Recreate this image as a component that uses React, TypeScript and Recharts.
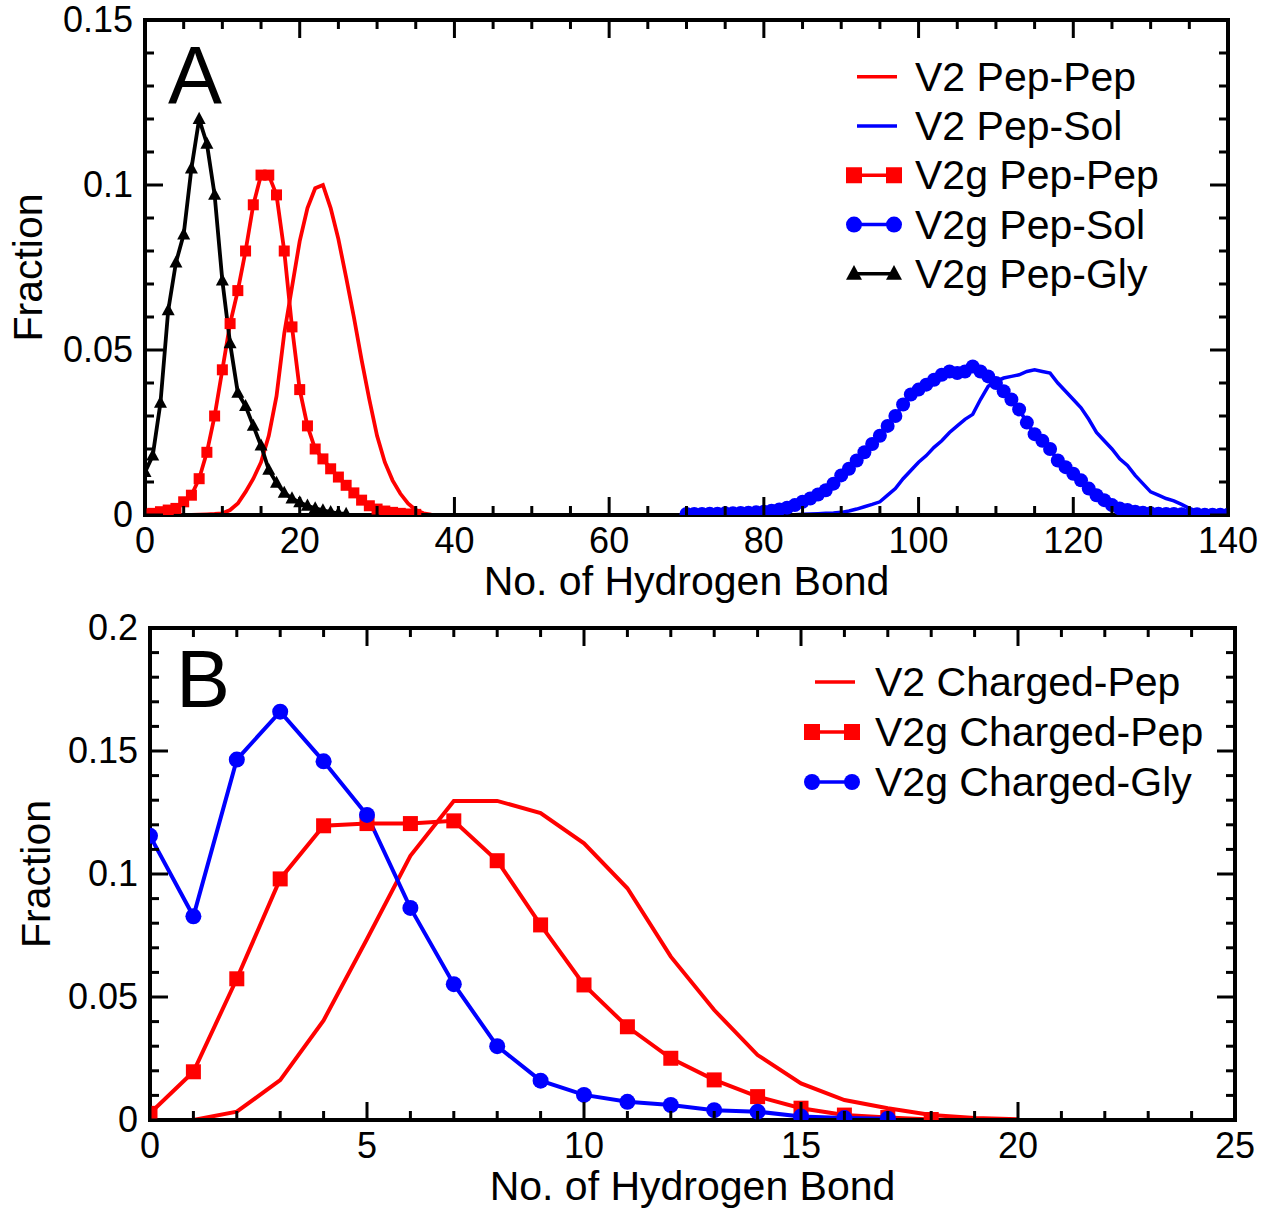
import React from 'react';
import { LineChart, Line, XAxis, YAxis, Legend, Label } from 'recharts';

const FONT = '"Liberation Sans", Arial, Helvetica, sans-serif';
const RED = '#ff0000';
const BLUE = '#0000ff';
const BLACK = '#000000';

// ---------- Panel A ----------
const aXTicks = [0, 5, 10, 15, 20, 25, 30, 35, 40, 45, 50, 55, 60, 65, 70, 75, 80, 85, 90, 95, 100, 105, 110, 115, 120, 125, 130, 135, 140];
const aYTicks = [0, 0.01, 0.02, 0.03, 0.04, 0.05, 0.06, 0.07, 0.08, 0.09, 0.1, 0.11, 0.12, 0.13, 0.14, 0.15];

// V2 Pep-Pep, x = 5..37
const v2PepPepStart = 5;
const v2PepPep = [
  0, 0, 0.0001, 0.0002, 0.0003,
  0.0005, 0.0015, 0.0035, 0.007, 0.011, 0.016, 0.024, 0.036, 0.055, 0.069,
  0.083, 0.093, 0.099, 0.1, 0.093, 0.0836, 0.072, 0.06, 0.047, 0.035,
  0.024, 0.016, 0.0105, 0.0065, 0.0035, 0.0015, 0.0005, 0.0001,
];

// V2 Pep-Sol, x = 84..140
const v2PepSolStart = 84;
const v2PepSol = [
  0.0001, 0.0002, 0.0003, 0.0004, 0.0005, 0.0006,
  0.0008, 0.0012, 0.0018, 0.0025, 0.0032, 0.004, 0.006, 0.008, 0.011, 0.0135,
  0.016, 0.018, 0.0205, 0.0225, 0.025, 0.027, 0.029, 0.0305, 0.035, 0.039,
  0.0405, 0.0415, 0.042, 0.0425, 0.0435, 0.044, 0.0435, 0.043, 0.04, 0.0375,
  0.035, 0.0325, 0.029, 0.025, 0.0225, 0.02, 0.017, 0.015, 0.012, 0.0095,
  0.007, 0.006, 0.005, 0.0043, 0.0032, 0.002, 0.0012, 0.0006, 0.0003, 0.0001, 0,
];

// V2g Pep-Pep, x = 0..35
const v2gPepPepStart = 0;
const v2gPepPep = [
  0.0003, 0.0005, 0.001, 0.0015, 0.002, 0.004, 0.006, 0.011, 0.019, 0.03,
  0.044, 0.058, 0.068, 0.08, 0.094, 0.103, 0.103, 0.097, 0.08, 0.057,
  0.038, 0.027, 0.02, 0.017, 0.014, 0.0115, 0.009, 0.0067, 0.0045, 0.0028,
  0.0018, 0.0012, 0.0008, 0.0005, 0.0003, 0.0002,
];

// V2g Pep-Sol, x = 70..140
const v2gPepSolStart = 70;
const v2gPepSol = [
  0.0003, 0.0003, 0.0003, 0.0004, 0.0004, 0.0005, 0.0005, 0.0006, 0.0007, 0.0008,
  0.001, 0.0013, 0.0017, 0.0022, 0.003, 0.004, 0.005, 0.0062, 0.0075, 0.0095,
  0.012, 0.014, 0.0165, 0.019, 0.0215, 0.024, 0.027, 0.03, 0.0335, 0.0365,
  0.038, 0.0395, 0.041, 0.0425, 0.0435, 0.043, 0.0435, 0.045, 0.0435, 0.042,
  0.04, 0.0375, 0.035, 0.032, 0.028, 0.0245, 0.0225, 0.02, 0.0165, 0.0145,
  0.0125, 0.0105, 0.008, 0.006, 0.0045, 0.003, 0.002, 0.0015, 0.001, 0.0007,
  0.0005, 0.0004, 0.0003, 0.0003, 0.0002, 0.0002, 0.0002, 0.0001, 0.0001, 0.0001, 0.0001,
];

// V2g Pep-Gly, x = 0..26
const v2gPepGlyStart = 0;
const v2gPepGly = [
  0.013, 0.018, 0.034, 0.062, 0.0765, 0.085, 0.105, 0.12, 0.1125, 0.097,
  0.071, 0.052, 0.037, 0.033, 0.027, 0.021, 0.0137, 0.0097, 0.0067, 0.005,
  0.0038, 0.0028, 0.002, 0.0014, 0.0009, 0.0005, 0.0003,
];

// ---------- Panel B ----------
const bXTicks = [0, 1, 2, 3, 4, 5, 6, 7, 8, 9, 10, 11, 12, 13, 14, 15, 16, 17, 18, 19, 20, 21, 22, 23, 24, 25];
const bYTicks = [0, 0.01, 0.02, 0.03, 0.04, 0.05, 0.06, 0.07, 0.08, 0.09, 0.1, 0.11, 0.12, 0.13, 0.14, 0.15, 0.16, 0.17, 0.18, 0.19, 0.2];

// V2 Charged-Pep, x = 1..20
const v2ChargedPepStart = 1;
const v2ChargedPep = [
  0, 0.0034, 0.0162, 0.0405, 0.0736, 0.1074, 0.1297, 0.1297, 0.1248, 0.1125,
  0.0942, 0.0664, 0.0447, 0.0264, 0.0149, 0.0081, 0.0048, 0.002, 0.0008, 0.0003,
];

// V2g Charged-Pep, x = 0..18
const v2gChargedPepStart = 0;
const v2gChargedPep = [
  0.0027, 0.0196, 0.0574, 0.098, 0.1196, 0.1205, 0.1205, 0.1216, 0.1054, 0.0793,
  0.0549, 0.0379, 0.0251, 0.0163, 0.0095, 0.0048, 0.002, 0.001, 0.0002,
];

// V2g Charged-Gly, x = 0..17
const v2gChargedGlyStart = 0;
const v2gChargedGly = [
  0.1155, 0.0828, 0.1465, 0.166, 0.1458, 0.124, 0.0862, 0.0552, 0.03, 0.016,
  0.0102, 0.0074, 0.0061, 0.004, 0.0034, 0.0014, 0.0008, 0.0005,
];

const toPoints = (start: number, ys: number[]) => ys.map((y, i) => ({ x: start + i, y }));

type MarkerKind = 'none' | 'square' | 'circle' | 'triangle';

interface Series {
  name: string;
  color: string;
  marker: MarkerKind;
  size: number;
  width: number;
  data: { x: number; y: number }[];
}

const seriesA: Series[] = [
  { name: 'V2 Pep-Pep', color: RED, marker: 'none', size: 0, width: 3.8, data: toPoints(v2PepPepStart, v2PepPep) },
  { name: 'V2 Pep-Sol', color: BLUE, marker: 'none', size: 0, width: 3.5, data: toPoints(v2PepSolStart, v2PepSol) },
  { name: 'V2g Pep-Pep', color: RED, marker: 'square', size: 11, width: 3.8, data: toPoints(v2gPepPepStart, v2gPepPep) },
  { name: 'V2g Pep-Sol', color: BLUE, marker: 'circle', size: 14, width: 3.8, data: toPoints(v2gPepSolStart, v2gPepSol) },
  { name: 'V2g Pep-Gly', color: BLACK, marker: 'triangle', size: 13, width: 3.8, data: toPoints(v2gPepGlyStart, v2gPepGly) },
];

const seriesB: Series[] = [
  { name: 'V2 Charged-Pep', color: RED, marker: 'none', size: 0, width: 4, data: toPoints(v2ChargedPepStart, v2ChargedPep) },
  { name: 'V2g Charged-Pep', color: RED, marker: 'square', size: 15, width: 4, data: toPoints(v2gChargedPepStart, v2gChargedPep) },
  { name: 'V2g Charged-Gly', color: BLUE, marker: 'circle', size: 16, width: 4, data: toPoints(v2gChargedGlyStart, v2gChargedGly) },
];

function Marker({ kind, cx, cy, size, color }: { kind: MarkerKind; cx: number; cy: number; size: number; color: string }) {
  const h = size / 2;
  if (kind === 'square') return <rect x={cx - h} y={cy - h} width={size} height={size} fill={color} />;
  if (kind === 'circle') return <circle cx={cx} cy={cy} r={h} fill={color} />;
  if (kind === 'triangle')
    return <polygon points={`${cx},${cy - h * 1.1} ${cx - h},${cy + h * 0.75} ${cx + h},${cy + h * 0.75}`} fill={color} />;
  return null;
}

const isMajor = (v: number, step: number) => Math.abs(v / step - Math.round(v / step)) < 1e-6;
const fmt = (v: number) => (v === 0 ? '0' : String(v));

const TICK_FONT = 36;

function makeTick(side: 'bottom' | 'left' | 'top' | 'right', step: number) {
  return (props: any) => {
    const { x, y, payload } = props;
    const v = payload.value as number;
    const big = isMajor(v, step);
    const len = big ? 18 : 9;
    let line;
    if (side === 'bottom') line = <line x1={x} x2={x} y1={y} y2={y - len} />;
    else if (side === 'top') line = <line x1={x} x2={x} y1={y} y2={y + len} />;
    else if (side === 'left') line = <line x1={x} x2={x + len} y1={y} y2={y} />;
    else line = <line x1={x} x2={x - len} y1={y} y2={y} />;
    return (
      <g stroke={BLACK} strokeWidth={3}>
        {line}
        {big && side === 'bottom' && (
          <text x={x} y={y + 38} textAnchor="middle" fontSize={TICK_FONT} fontFamily={FONT} fill={BLACK} stroke="none">
            {fmt(v)}
          </text>
        )}
        {big && side === 'left' && (
          <text x={x - 12} y={y + 12} textAnchor="end" fontSize={TICK_FONT} fontFamily={FONT} fill={BLACK} stroke="none">
            {fmt(v)}
          </text>
        )}
      </g>
    );
  };
}

const AXIS_LINE = { stroke: BLACK, strokeWidth: 4, strokeLinecap: 'square' as const };

function makeLegend(series: Series[], rowH: number, symX1: number, symX2: number, textX: number) {
  return () => (
    <svg width={470} height={series.length * rowH + 4} style={{ display: 'block', overflow: 'visible' }}>
      {series.map((s, i) => {
        const cy = rowH / 2 + i * rowH;
        return (
          <g key={s.name}>
            {s.marker === 'none' ? (
              <line x1={symX1} x2={symX2} y1={cy} y2={cy} stroke={s.color} strokeWidth={3.5} />
            ) : (
              <g>
                <line x1={symX1 - 3} x2={symX2 - 3} y1={cy} y2={cy} stroke={s.color} strokeWidth={3.5} />
                <Marker kind={s.marker} cx={symX1 - 3} cy={cy} size={16} color={s.color} />
                <Marker kind={s.marker} cx={symX2 - 3} cy={cy} size={16} color={s.color} />
              </g>
            )}
            <text x={textX} y={cy} dominantBaseline="central" fontSize={41} fontFamily={FONT} fill={BLACK}>
              {s.name}
            </text>
          </g>
        );
      })}
    </svg>
  );
}

function xTitle(props: any) {
  const vb = props.viewBox;
  return (
    <text x={vb.x + vb.width / 2} y={vb.y + 80} textAnchor="middle" fontSize={41} fontFamily={FONT} fill={BLACK}>
      No. of Hydrogen Bond
    </text>
  );
}

function yTitle(dx: number) {
  return (props: any) => {
    const vb = props.viewBox;
    const cx = vb.x + dx;
    const cy = vb.y + vb.height / 2;
    return (
      <text
        x={cx}
        y={cy}
        transform={`rotate(-90, ${cx}, ${cy})`}
        textAnchor="middle"
        dominantBaseline="central"
        fontSize={41}
        fontFamily={FONT}
        fill={BLACK}
      >
        Fraction
      </text>
    );
  };
}

function renderLines(series: Series[]) {
  return series.map((s) => (
    <Line
      key={s.name}
      xAxisId="b"
      yAxisId="l"
      data={s.data}
      dataKey="y"
      name={s.name}
      type="linear"
      stroke={s.color}
      strokeWidth={s.width}
      isAnimationActive={false}
      activeDot={false}
      dot={
        s.marker === 'none'
          ? false
          : (p: any) => <Marker key={`${s.name}-${p.index}`} kind={s.marker} cx={p.cx} cy={p.cy} size={s.size} color={s.color} />
      }
    />
  ));
}

function Panel({
  series,
  xTicks,
  yTicks,
  xDomain,
  yDomain,
  xStep,
  height,
  margin,
  yAxisWidth,
  xAxisHeight,
  legend,
  legendPos,
  yTitleDx,
}: any) {
  return (
    <LineChart width={1279} height={height} margin={margin} style={{ overflow: 'visible' }}>
      <XAxis
        xAxisId="b"
        type="number"
        dataKey="x"
        domain={xDomain}
        ticks={xTicks}
        interval={0}
        tickSize={0}
        tickMargin={0}
        height={xAxisHeight}
        axisLine={AXIS_LINE}
        tickLine={false}
        tick={makeTick('bottom', xStep)}
        allowDataOverflow
      >
        <Label content={xTitle} />
      </XAxis>
      <XAxis
        xAxisId="t"
        orientation="top"
        type="number"
        dataKey="x"
        domain={xDomain}
        ticks={xTicks}
        interval={0}
        tickSize={0}
        tickMargin={0}
        height={1}
        axisLine={AXIS_LINE}
        tickLine={false}
        tick={makeTick('top', xStep)}
        allowDataOverflow
      />
      <YAxis
        yAxisId="l"
        type="number"
        domain={yDomain}
        ticks={yTicks}
        interval={0}
        tickSize={0}
        tickMargin={0}
        width={yAxisWidth}
        axisLine={AXIS_LINE}
        tickLine={false}
        tick={makeTick('left', 0.05)}
        allowDataOverflow
      >
        <Label content={yTitle(yTitleDx)} />
      </YAxis>
      <YAxis
        yAxisId="r"
        orientation="right"
        type="number"
        domain={yDomain}
        ticks={yTicks}
        interval={0}
        tickSize={0}
        tickMargin={0}
        width={1}
        axisLine={AXIS_LINE}
        tickLine={false}
        tick={makeTick('right', 0.05)}
        allowDataOverflow
      />
      <Legend
        layout="vertical"
        align="center"
        verticalAlign="middle"
        wrapperStyle={{ position: 'absolute', left: legendPos.left, top: legendPos.top, width: 470 }}
        content={legend}
      />
      {/* invisible carrier so the top/right frame axes get drawn */}
      <Line
        xAxisId="t"
        yAxisId="r"
        data={series[0].data}
        dataKey="y"
        stroke="none"
        dot={false}
        activeDot={false}
        legendType="none"
        isAnimationActive={false}
      />
      {renderLines(series)}
    </LineChart>
  );
}

export default function App() {
  return (
    <div style={{ position: 'absolute', left: 0, top: 0, width: 1279, height: 1209, background: '#fff', fontFamily: FONT }}>
      <div style={{ position: 'absolute', left: 0, top: 600 }}>
        <Panel
          series={seriesB}
          xTicks={bXTicks}
          yTicks={bYTicks}
          xDomain={[0, 25]}
          yDomain={[0, 0.2]}
          xStep={5}
          height={609}
          margin={{ top: 27, right: 43, bottom: 0, left: 0 }}
          yAxisWidth={150}
          xAxisHeight={89}
          legend={makeLegend(seriesB, 50, 25, 65, 85)}
          legendPos={{ left: 790, top: 57 }}
          yTitleDx={36}
        />
      </div>
      <div style={{ position: 'absolute', left: 0, top: 0 }}>
        <Panel
          series={seriesA}
          xTicks={aXTicks}
          yTicks={aYTicks}
          xDomain={[0, 140]}
          yDomain={[0, 0.15]}
          xStep={20}
          height={610}
          margin={{ top: 19, right: 50, bottom: 0, left: 0 }}
          yAxisWidth={145}
          xAxisHeight={95}
          legend={makeLegend(seriesA, 49.3, 17, 57, 75)}
          legendPos={{ left: 840, top: 52 }}
          yTitleDx={28}
        />
      </div>
      <svg width={1279} height={1209} style={{ position: 'absolute', left: 0, top: 0, pointerEvents: 'none' }}>
        <text x={168} y={103} fontSize={81} fontFamily={FONT} fill={BLACK}>
          A
        </text>
        <text x={176} y={707} fontSize={81} fontFamily={FONT} fill={BLACK}>
          B
        </text>
      </svg>
    </div>
  );
}
